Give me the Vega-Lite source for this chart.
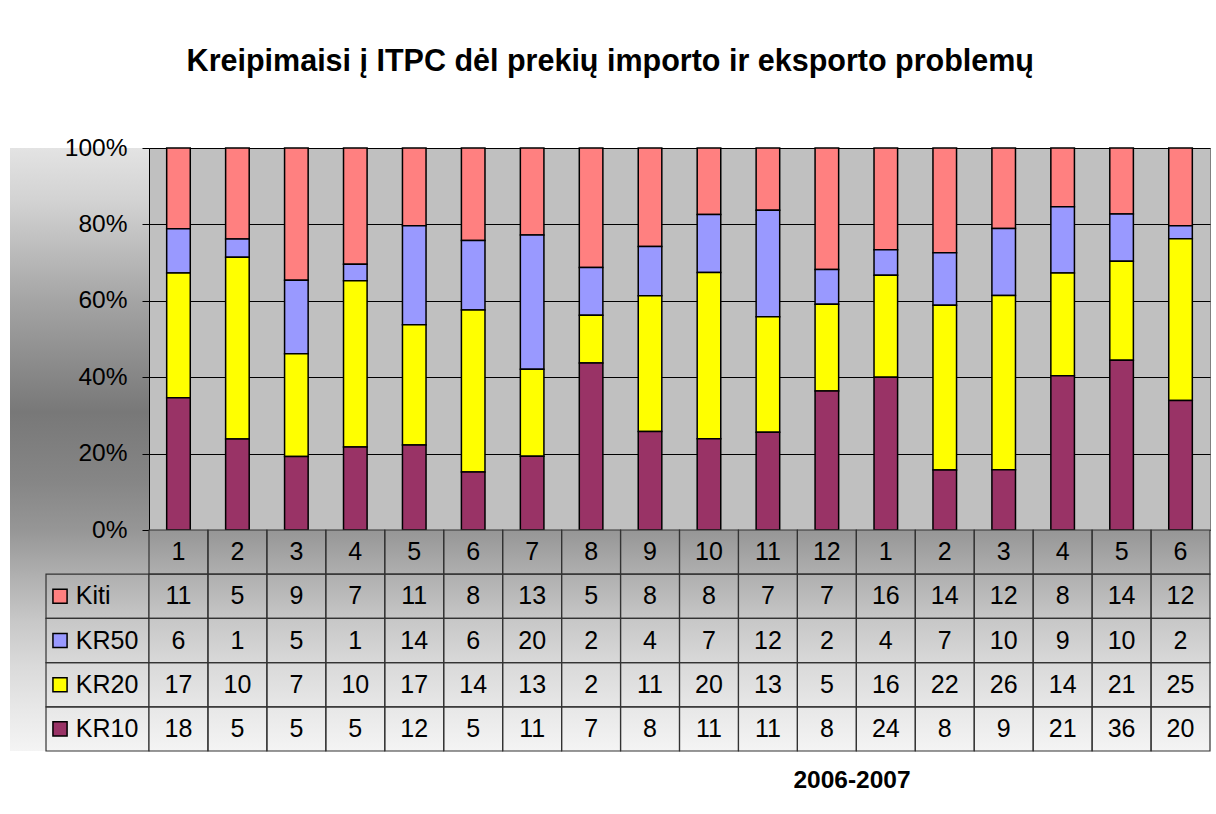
{
  "$schema": "https://vega.github.io/schema/vega-lite/v6.json",
  "padding": {"left": 10, "top": 47, "right": 0, "bottom": 0},
  "background": "white",
  "title": {
    "text": "Kreipimaisi į ITPC dėl prekių importo ir eksporto problemų",
    "fontSize": 30.5, "fontWeight": "bold", "color": "black",
    "anchor": "middle", "offset": 33, "baseline": "alphabetic"
  },
  "datasets": {
    "d": [
      {"i":1,"m":"1","s":"Kiti","v":11},{"i":1,"m":"1","s":"KR50","v":6},{"i":1,"m":"1","s":"KR20","v":17},{"i":1,"m":"1","s":"KR10","v":18},
      {"i":2,"m":"2","s":"Kiti","v":5},{"i":2,"m":"2","s":"KR50","v":1},{"i":2,"m":"2","s":"KR20","v":10},{"i":2,"m":"2","s":"KR10","v":5},
      {"i":3,"m":"3","s":"Kiti","v":9},{"i":3,"m":"3","s":"KR50","v":5},{"i":3,"m":"3","s":"KR20","v":7},{"i":3,"m":"3","s":"KR10","v":5},
      {"i":4,"m":"4","s":"Kiti","v":7},{"i":4,"m":"4","s":"KR50","v":1},{"i":4,"m":"4","s":"KR20","v":10},{"i":4,"m":"4","s":"KR10","v":5},
      {"i":5,"m":"5","s":"Kiti","v":11},{"i":5,"m":"5","s":"KR50","v":14},{"i":5,"m":"5","s":"KR20","v":17},{"i":5,"m":"5","s":"KR10","v":12},
      {"i":6,"m":"6","s":"Kiti","v":8},{"i":6,"m":"6","s":"KR50","v":6},{"i":6,"m":"6","s":"KR20","v":14},{"i":6,"m":"6","s":"KR10","v":5},
      {"i":7,"m":"7","s":"Kiti","v":13},{"i":7,"m":"7","s":"KR50","v":20},{"i":7,"m":"7","s":"KR20","v":13},{"i":7,"m":"7","s":"KR10","v":11},
      {"i":8,"m":"8","s":"Kiti","v":5},{"i":8,"m":"8","s":"KR50","v":2},{"i":8,"m":"8","s":"KR20","v":2},{"i":8,"m":"8","s":"KR10","v":7},
      {"i":9,"m":"9","s":"Kiti","v":8},{"i":9,"m":"9","s":"KR50","v":4},{"i":9,"m":"9","s":"KR20","v":11},{"i":9,"m":"9","s":"KR10","v":8},
      {"i":10,"m":"10","s":"Kiti","v":8},{"i":10,"m":"10","s":"KR50","v":7},{"i":10,"m":"10","s":"KR20","v":20},{"i":10,"m":"10","s":"KR10","v":11},
      {"i":11,"m":"11","s":"Kiti","v":7},{"i":11,"m":"11","s":"KR50","v":12},{"i":11,"m":"11","s":"KR20","v":13},{"i":11,"m":"11","s":"KR10","v":11},
      {"i":12,"m":"12","s":"Kiti","v":7},{"i":12,"m":"12","s":"KR50","v":2},{"i":12,"m":"12","s":"KR20","v":5},{"i":12,"m":"12","s":"KR10","v":8},
      {"i":13,"m":"1","s":"Kiti","v":16},{"i":13,"m":"1","s":"KR50","v":4},{"i":13,"m":"1","s":"KR20","v":16},{"i":13,"m":"1","s":"KR10","v":24},
      {"i":14,"m":"2","s":"Kiti","v":14},{"i":14,"m":"2","s":"KR50","v":7},{"i":14,"m":"2","s":"KR20","v":22},{"i":14,"m":"2","s":"KR10","v":8},
      {"i":15,"m":"3","s":"Kiti","v":12},{"i":15,"m":"3","s":"KR50","v":10},{"i":15,"m":"3","s":"KR20","v":26},{"i":15,"m":"3","s":"KR10","v":9},
      {"i":16,"m":"4","s":"Kiti","v":8},{"i":16,"m":"4","s":"KR50","v":9},{"i":16,"m":"4","s":"KR20","v":14},{"i":16,"m":"4","s":"KR10","v":21},
      {"i":17,"m":"5","s":"Kiti","v":14},{"i":17,"m":"5","s":"KR50","v":10},{"i":17,"m":"5","s":"KR20","v":21},{"i":17,"m":"5","s":"KR10","v":36},
      {"i":18,"m":"6","s":"Kiti","v":12},{"i":18,"m":"6","s":"KR50","v":2},{"i":18,"m":"6","s":"KR20","v":25},{"i":18,"m":"6","s":"KR10","v":20}
    ]
  },
  "spacing": 0,
  "bounds": "flush",
  "hconcat": [
    {
      "width": 139, "height": 603,
      "data": {"name": "d"},
      "transform": [{"filter": "datum.i == 1"}],
      "view": {"fill": {"gradient": "linear", "x1": 0, "y1": 0, "x2": 0, "y2": 1, "stops": [
        {"offset": 0, "color": "#e3e3e3"},
        {"offset": 0.0896, "color": "#d2d2d2"},
        {"offset": 0.255, "color": "#a4a4a4"},
        {"offset": 0.438, "color": "#787878"},
        {"offset": 0.554, "color": "#868686"},
        {"offset": 0.633, "color": "#969696"},
        {"offset": 0.71, "color": "#b0b0b0"},
        {"offset": 0.786, "color": "#c8c8c8"},
        {"offset": 0.859, "color": "#dadada"},
        {"offset": 0.932, "color": "#e8e8e8"},
        {"offset": 1, "color": "#f4f4f4"}
      ]}},
      "layer": [
        {
          "mark": {"type": "rect", "filled": false, "stroke": "#333333", "strokeWidth": 1.2},
          "encoding": {
            "x": {"datum": "L", "type": "nominal", "scale": {"type": "band", "domain": ["L"], "paddingInner": 0, "paddingOuter": 0.1748, "align": 1}, "axis": null},
            "y": {"field": "s", "type": "nominal", "scale": {"type": "band", "domain": ["_1", "_2", "_3", "_4", "_5", "_6", "_7", "_8", "#", "Kiti", "KR50", "KR20", "KR10"], "paddingInner": 0, "paddingOuter": 0.3213, "align": 1}, "axis": null}
          }
        },
        {
          "mark": {"type": "point", "shape": "square", "filled": true, "size": 200, "stroke": "black", "strokeWidth": 1.5, "opacity": 1},
          "encoding": {
            "x": {"datum": "L", "type": "nominal", "bandPosition": 0.136, "scale": {"type": "band", "domain": ["L"], "paddingInner": 0, "paddingOuter": 0.1748, "align": 1}, "axis": null},
            "y": {"field": "s", "type": "nominal", "scale": {"type": "band", "domain": ["_1", "_2", "_3", "_4", "_5", "_6", "_7", "_8", "#", "Kiti", "KR50", "KR20", "KR10"], "paddingInner": 0, "paddingOuter": 0.3213, "align": 1}, "axis": null},
            "color": {"field": "s", "type": "nominal",
              "scale": {"domain": ["Kiti", "KR50", "KR20", "KR10"], "range": ["#FF8080", "#9999FF", "#FFFF00", "#993366"]},
              "legend": null}
          }
        },
        {
          "mark": {"type": "text", "align": "left", "baseline": "middle", "fontSize": 25, "color": "black"},
          "encoding": {
            "x": {"datum": "L", "type": "nominal", "bandPosition": 0.29, "scale": {"type": "band", "domain": ["L"], "paddingInner": 0, "paddingOuter": 0.1748, "align": 1}, "axis": null},
            "y": {"field": "s", "type": "nominal", "scale": {"type": "band", "domain": ["_1", "_2", "_3", "_4", "_5", "_6", "_7", "_8", "#", "Kiti", "KR50", "KR20", "KR10"], "paddingInner": 0, "paddingOuter": 0.3213, "align": 1}, "axis": null},
            "text": {"field": "s"}
          }
        }
      ]
    },
    {
      "spacing": 0,
      "bounds": "flush",
      "vconcat": [
        {
          "width": 1061, "height": 382,
          "data": {"name": "d"},
          "view": {"fill": "#c0c0c0", "stroke": "#808080"},
          "mark": {"type": "bar", "stroke": "black", "strokeWidth": 1.5},
          "encoding": {
            "x": {"field": "i", "type": "ordinal", "scale": {"paddingInner": 0.6, "paddingOuter": 0.3}, "axis": null},
            "y": {"field": "v", "aggregate": "sum", "type": "quantitative", "stack": "normalize",
              "axis": {"values": [0, 0.2, 0.4, 0.6, 0.8, 1], "format": ".0%", "title": null,
                "grid": true, "gridColor": "black", "gridWidth": 1, "gridOpacity": 1,
                "tickColor": "black", "tickSize": 7, "domainColor": "black",
                "labelFontSize": 24.5, "labelColor": "black", "labelPadding": 15}},
            "color": {"field": "s", "type": "nominal",
              "scale": {"domain": ["Kiti", "KR50", "KR20", "KR10"], "range": ["#FF8080", "#9999FF", "#FFFF00", "#993366"]},
              "legend": null},
            "order": {"field": "s", "sort": "ascending"}
          }
        },
        {
          "width": 1061, "height": 221,
          "data": {"name": "d"},
          "view": {"fill": {"gradient": "linear", "x1": 0, "y1": 0, "x2": 0, "y2": 1, "stops": [
            {"offset": 0, "color": "#969696"},
            {"offset": 0.208, "color": "#b0b0b0"},
            {"offset": 0.416, "color": "#c8c8c8"},
            {"offset": 0.615, "color": "#dadada"},
            {"offset": 0.814, "color": "#e8e8e8"},
            {"offset": 1, "color": "#f4f4f4"}
          ]}},
          "encoding": {
            "x": {"field": "i", "type": "ordinal", "scale": {"type": "band", "paddingInner": 0, "paddingOuter": 0},
              "axis": {"title": "2006-2007", "labels": false, "ticks": false, "domain": false, "grid": false,
                "titleFontSize": 24.5, "titleFontWeight": "bold", "titleColor": "black",
                "titleX": 702.5, "titleY": 36, "titleAlign": "center", "titleBaseline": "alphabetic"}}
          },
          "layer": [
            {
              "mark": {"type": "rect", "filled": false, "stroke": "#333333", "strokeWidth": 1.2},
              "encoding": {
                "y": {"field": "s", "type": "nominal", "scale": {"type": "band", "domain": ["#", "Kiti", "KR50", "KR20", "KR10"], "paddingInner": 0, "paddingOuter": 0}, "axis": null}
              }
            },
            {
              "transform": [{"filter": "datum.s == 'KR10'"}],
              "mark": {"type": "rect", "filled": false, "stroke": "#333333", "strokeWidth": 1.2},
              "encoding": {
                "y": {"datum": "#", "type": "nominal", "scale": {"type": "band", "domain": ["#", "Kiti", "KR50", "KR20", "KR10"], "paddingInner": 0, "paddingOuter": 0}, "axis": null}
              }
            },
            {
              "mark": {"type": "text", "align": "center", "baseline": "middle", "fontSize": 25, "color": "black"},
              "encoding": {
                "y": {"field": "s", "type": "nominal", "scale": {"type": "band", "domain": ["#", "Kiti", "KR50", "KR20", "KR10"], "paddingInner": 0, "paddingOuter": 0}, "axis": null},
                "text": {"field": "v"}
              }
            },
            {
              "transform": [{"filter": "datum.s == 'KR10'"}],
              "mark": {"type": "text", "align": "center", "baseline": "middle", "fontSize": 25, "color": "black"},
              "encoding": {
                "y": {"datum": "#", "type": "nominal", "scale": {"type": "band", "domain": ["#", "Kiti", "KR50", "KR20", "KR10"], "paddingInner": 0, "paddingOuter": 0}, "axis": null},
                "text": {"field": "m"}
              }
            }
          ]
        }
      ]
    }
  ],
  "config": {
    "font": "Liberation Sans",
    "view": {"stroke": null}
  }
}
